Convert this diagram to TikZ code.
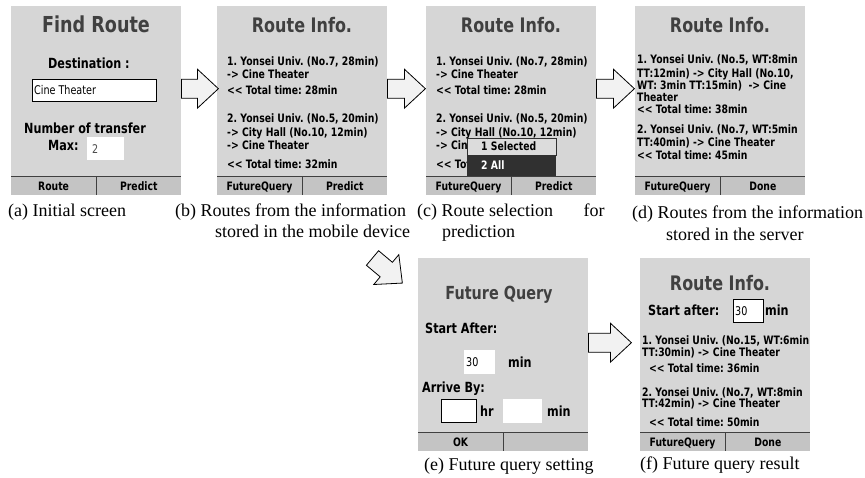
\documentclass[tikz,border=0pt]{standalone}
\usepackage{fontspec}
\setmainfont{Liberation Serif}
\newfontfamily\phonefont[FakeStretch=0.8]{DejaVu Sans}
\usetikzlibrary{calc}

\definecolor{scrgray}{RGB}{214,214,214}
\definecolor{keygray}{RGB}{196,196,196}
\definecolor{headgray}{RGB}{64,64,64}
\definecolor{arrowgray}{RGB}{242,242,242}
\definecolor{popdark}{RGB}{48,48,48}
\definecolor{poplight}{RGB}{220,220,220}

\newcommand\totmark{<\kern0pt<}

\tikzset{
  pics/blockarrow/.style={code={
    \draw[line width=0.8pt, fill=arrowgray, line join=miter]
      (0,-9.5) -- (#1-21,-9.5) -- (#1-21,-19.5) -- (#1,0) -- (#1-21,19.5) -- (#1-21,9.5) -- (0,9.5) -- cycle;
  }}
}

% soft key bar at the foot of a screen
\newcommand\softkeys[3]{%
  \fill[keygray] ($(#1.south west)+(0,-19)$) rectangle (#1.south east);
  \draw[keyline] ($(#1.south west)+(0,-19)$) -- ($(#1.south east)+(0,-19)$);
  \draw[keyline] ($(#1.south)+(0,-19)$) -- (#1.south);
  \node[softkey] (#1-l) at ($(#1.south west)!.25!(#1.south east)+(0,-9.5)$) {#2};
  \node[softkey] (#1-r) at ($(#1.south west)!.75!(#1.south east)+(0,-9.5)$) {#3};
}

\begin{document}
\frenchspacing
\begin{tikzpicture}[x=1pt, y=-1pt,
  screen/.style={fill=scrgray, inner sep=0pt, anchor=north west, minimum width=170pt, minimum height=#1},
  screen/.default=189pt,
  scrtitle/.style={inner sep=0pt, text=headgray, text height=14.6pt, text depth=0pt,
    font=\phonefont\bfseries\fontsize{20}{24}\selectfont},
  infoline/.style={anchor=west, inner sep=0pt, text height=8.4pt, text depth=0pt,
    font=\phonefont\bfseries\fontsize{11.6}{13}\selectfont},
  bigline/.style={anchor=west, inner sep=0pt, text height=10.2pt, text depth=0pt,
    font=\phonefont\bfseries\fontsize{14}{16}\selectfont},
  entry/.style={anchor=west, inner sep=0pt, text height=8.7pt, text depth=0pt,
    font=\phonefont\fontsize{12}{14}\selectfont},
  softkey/.style={inner sep=0pt, text height=8.4pt, text depth=0pt,
    font=\phonefont\bfseries\fontsize{11.6}{13}\selectfont},
  inbox/.style={fill=white, anchor=north west, inner sep=0pt},
  keyline/.style={draw=black!75, line width=0.8pt},
  figcap/.style={anchor=west, inner sep=0pt, text height=11.9pt, text depth=0pt,
    font=\fontsize{18}{21}\selectfont}]
\useasboundingbox (0,0) rectangle (865,478);

% (a) initial screen
\node[screen] (scrA) at (11,6) {};
\begin{scope}[shift={(scrA.north west)}]
  \node[scrtitle, text height=16pt, font=\phonefont\bfseries\fontsize{22}{26}\selectfont] (a0) at (85,19) {Find Route};
  \node[bigline] (a1) at (37,57) {Destination :};
  \node[inbox, draw=black, line width=0.8pt, minimum width=124pt, minimum height=22pt] (destbox) at (21,73) {};
  \node[entry] (a2) at ([xshift=2pt]destbox.west) {Cine Theater};
  \node[bigline] (a3) at (13,122) {Number of transfer};
  \node[bigline] (a4) at (37,139) {Max:};
  \node[inbox, minimum width=37pt, minimum height=23pt] (maxbox) at (76,131) {};
  \node[entry, text=black!70] (a5) at ([xshift=5pt]maxbox.west) {2};
\end{scope}
\softkeys{scrA}{Route}{Predict}

% (b) and (c) routes on the device
\foreach \s/\x in {scrB/217, scrC/426} {
  \node[screen] (\s) at (\x,6) {};
  \begin{scope}[shift={(\s.north west)}]
    \node[scrtitle] (\s-0) at (85,19) {Route Info.};
    \node[infoline] (\s-1) at (10,55) {1. Yonsei Univ. (No.7, 28min)};
    \node[infoline] (\s-2) at (10,68) {-> Cine Theater};
    \node[infoline] (\s-3) at (10,84) {\totmark{} Total time: 28min};
    \node[infoline] (\s-4) at (10,112) {2. Yonsei Univ. (No.5, 20min)};
    \node[infoline] (\s-5) at (10,126) {-> City Hall (No.10, 12min)};
  \end{scope}
  \softkeys{\s}{FutureQuery}{Predict}
}
\begin{scope}[shift={(scrB.north west)}]
  \node[infoline] (scrB-6) at (10,139) {-> Cine Theater};
  \node[infoline] (scrB-7) at (10,158) {\totmark{} Total time: 32min};
\end{scope}
% (c): the menu hides the end of route 2
\begin{scope}[shift={(scrC.north west)}]
  \node[infoline] (scrC-6) at (10,139) {-> Cin};
  \node[infoline] (scrC-7) at (10,158) {\totmark{} Tot};
  \node[inbox, fill=poplight, draw=popdark, line width=0.8pt, minimum width=89pt, minimum height=17pt] (pop1) at (41,132) {};
  \node[inbox, fill=popdark, minimum width=89pt, minimum height=21pt] (pop2) at (41,149) {};
  \node[infoline] (popt1) at (55,140) {1 Selected};
  \node[infoline, text=white] (popt2) at (55,159) {2 All};
\end{scope}

% (d) routes from the server
\node[screen] (scrD) at (635,6) {};
\begin{scope}[shift={(scrD.north west)}]
  \node[scrtitle] (d0) at (85,19) {Route Info.};
  \node[infoline] (d1) at (2,53) {1. Yonsei Univ. (No.5, WT:8min};
  \node[infoline] (d2) at (2,67) {TT:12min) -> City Hall (No.10,};
  \node[infoline] (d3) at (2,79) {WT: 3min TT:15min)\ \ -> Cine};
  \node[infoline] (d4) at (2,91) {Theater};
  \node[infoline] (d5) at (2,103) {\totmark{} Total time: 38min};
  \node[infoline] (d6) at (2,123) {2. Yonsei Univ. (No.7, WT:5min};
  \node[infoline] (d7) at (2,136) {TT:40min) -> Cine Theater};
  \node[infoline] (d8) at (2,149) {\totmark{} Total time: 45min};
\end{scope}
\softkeys{scrD}{FutureQuery}{Done}

% (e) future query setting
\node[screen=193pt] (scrE) at (418,258) {};
\begin{scope}[shift={(scrE.north west)}]
  \node[scrtitle, text height=13.1pt, font=\phonefont\bfseries\fontsize{18}{22}\selectfont] (e0) at (81,35) {Future Query};
  \node[bigline] (e1) at (7,70) {Start After:};
  \node[inbox, minimum width=31pt, minimum height=24pt] (startbox) at (46,92) {};
  \node[entry] (e2) at ([xshift=2pt]startbox.west) {30};
  \node[bigline] (e3) at (90,104) {min};
  \node[bigline] (e4) at (4,129) {Arrive By:};
  \node[inbox, draw=black, line width=0.8pt, minimum width=35pt, minimum height=23pt] (hrbox) at (23,141) {};
  \node[bigline] (e5) at (62,153) {hr};
  \node[inbox, minimum width=39pt, minimum height=24pt] (minbox) at (85,141) {};
  \node[bigline] (e6) at (129,153) {min};
\end{scope}
\softkeys{scrE}{OK}{}

% (f) future query result
\node[screen=193pt] (scrF) at (640,258) {};
\begin{scope}[shift={(scrF.north west)}]
  \node[scrtitle] (f0) at (80,25) {Route Info.};
  \node[bigline] (f1) at (8,52) {Start after:};
  \node[inbox, draw=black, line width=0.8pt, minimum width=30pt, minimum height=23pt] (afterbox) at (93,41) {};
  \node[entry] (f2) at ([xshift=2pt]afterbox.west) {30};
  \node[bigline] (f3) at (125,52) {min};
  \node[infoline] (f4) at (2,82) {1. Yonsei Univ. (No.15, WT:6min};
  \node[infoline] (f5) at (2,94) {TT:30min) -> Cine Theater};
  \node[infoline] (f6) at (9,110) {\totmark{} Total time: 36min};
  \node[infoline] (f7) at (2,134) {2. Yonsei Univ. (No.7, WT:8min};
  \node[infoline] (f8) at (2,145) {TT:42min) -> Cine Theater};
  \node[infoline] (f9) at (9,164) {\totmark{} Total time: 50min};
\end{scope}
\softkeys{scrF}{FutureQuery}{Done}

% block arrows
\pic at ($(scrA.east)+(0,-12)$) {blockarrow=37};
\pic at ($(scrB.east)+(0,-12)$) {blockarrow=38};
\pic at ($(scrC.east)+(0,-12)$) {blockarrow=38};
\pic[rotate=-40] at ($(scrE.north west)+(-45.5,0)$) {blockarrow=39};
\pic at ($(scrE.east)+(0,-12)$) {blockarrow=43};

% captions
\node[figcap] (capA) at (8,211) {(a) Initial screen};
\node[figcap] (capB) at (175,211) {(b) Routes from the information};
\node[figcap] (capB2) at (215,232) {stored in the mobile device};
\node[figcap] (capC) at (417,211) {(c) Route selection\hspace{26pt} for};
\node[figcap] (capC2) at (442,232) {prediction};
\node[figcap] (capD) at (632,213) {(d) Routes from the information};
\node[figcap] (capD2) at (666,235) {stored in the server};
\node[figcap] (capE) at (424,465) {(e) Future query setting};
\node[figcap] (capF) at (640,464) {(f) Future query result};

\end{tikzpicture}
\end{document}
